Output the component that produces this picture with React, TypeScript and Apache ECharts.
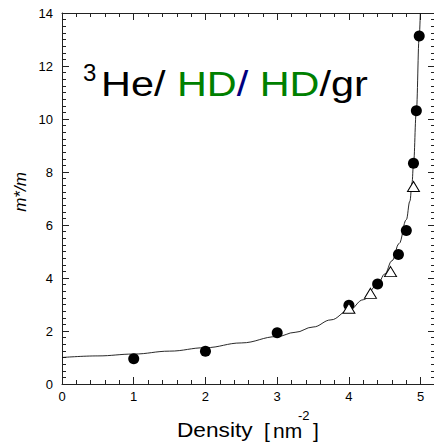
import React, { useEffect, useRef } from 'react';
import * as echarts from 'echarts';

// fitted curve
const curveX = [0, 0.5, 1, 1.5, 2, 2.5, 3, 3.25, 3.5, 3.75, 4, 4.2, 4.4, 4.5, 4.6, 4.7, 4.8, 4.85, 4.88, 4.9, 4.94, 4.98, 4.995];
const curveY = [1.0, 1.06, 1.13, 1.24, 1.37, 1.55, 1.79, 1.95, 2.15, 2.42, 2.78, 3.18, 3.75, 4.15, 4.65, 5.3, 6.2, 6.9, 7.6, 8.3, 10.3, 13.1, 14.0];

// filled circles
const circleX = [1, 2, 3, 4, 4.4, 4.69, 4.8, 4.9, 4.94, 4.98];
const circleY = [0.95, 1.24, 1.93, 2.97, 3.77, 4.89, 5.79, 8.33, 10.31, 13.13];

// open triangles
const triX = [4.0, 4.3, 4.58, 4.9];
const triY = [2.86, 3.42, 4.24, 7.45];

const FONT = '"Liberation Sans", Arial, Helvetica, sans-serif';
const AX = '#222';
// a hair above zero, so that no axis is moved onto another axis's zero line
const EPS = 1e-9;

const intLabel = (v: number) => (Math.abs(v - Math.round(v)) < 1e-6 ? String(Math.round(v)) : '');

function xAxisCfg(position: 'top' | 'bottom', labels: boolean) {
  return {
    type: 'value',
    position,
    min: EPS,
    max: 5.2,
    interval: 1,
    axisLine: { show: true, lineStyle: { color: AX, width: 1 } },
    axisTick: { show: true, inside: true, length: 7 },
    minorTick: { show: true, splitNumber: 5, length: 4 },
    splitLine: { show: false },
    axisLabel: {
      show: labels,
      showMaxLabel: false,
      margin: 6,
      fontSize: 13,
      color: '#000',
      fontFamily: FONT,
      formatter: intLabel,
    },
  };
}

function yAxisCfg(position: 'left' | 'right', labels: boolean) {
  return {
    type: 'value',
    position,
    min: EPS,
    max: 14,
    interval: 2,
    axisLine: { show: true, lineStyle: { color: AX, width: 1 } },
    axisTick: { show: true, inside: true, length: 7 },
    minorTick: { show: true, splitNumber: 8, length: 4 },
    splitLine: { show: false },
    axisLabel: { show: labels, margin: 9, fontSize: 13, color: '#000', fontFamily: FONT, formatter: intLabel },
  };
}

export default function App() {
  const ref = useRef<HTMLDivElement>(null);
  useEffect(() => {
    if (!ref.current) return;
    const chart = echarts.init(ref.current, undefined, { renderer: 'svg' });
    chart.setOption({
      animation: false,
      grid: { left: 62, right: -1, top: 13, bottom: 60, outerBoundsMode: 'none' },
      xAxis: [xAxisCfg('bottom', true), xAxisCfg('top', false)],
      yAxis: [yAxisCfg('left', true), yAxisCfg('right', false)],
      series: [
        {
          type: 'line',
          data: curveX.map((x, i) => [x, curveY[i]]),
          showSymbol: false,
          smooth: 0.4,
          smoothMonotone: 'x',
          lineStyle: { color: '#111', width: 0.9 },
          z: 2,
        },
        {
          type: 'scatter',
          data: circleX.map((x, i) => [x, circleY[i]]),
          symbol: 'circle',
          symbolSize: 11,
          itemStyle: { color: '#000', opacity: 1 },
          z: 3,
        },
        {
          type: 'scatter',
          data: triX.map((x, i) => [x, triY[i]]),
          symbol: 'triangle',
          symbolSize: [12, 10],
          itemStyle: { color: '#fff', borderColor: '#000', borderWidth: 1, opacity: 1 },
          z: 4,
        },
      ],
      graphic: [
        {
          type: 'text',
          x: 83,
          y: 60,
          style: { text: '3', fontSize: 24, fontFamily: FONT, fill: '#000', verticalAlign: 'top' },
        },
        {
          type: 'text',
          x: 101,
          y: 65,
          scaleX: 1.15,
          style: {
            text: '{k|He/ }{g|HD}{b|/ }{g|HD}{k|/gr}',
            fontSize: 36,
            fontFamily: FONT,
            verticalAlign: 'top',
            rich: {
              k: { fill: '#000', fontSize: 36, fontFamily: FONT },
              g: { fill: '#008000', fontSize: 36, fontFamily: FONT },
              b: { fill: '#000080', fontSize: 36, fontFamily: FONT },
            },
          },
        },
        {
          type: 'text',
          x: 20,
          y: 192,
          rotation: Math.PI / 2,
          style: {
            text: 'm*/m',
            fontSize: 17,
            fontStyle: 'italic',
            fontFamily: FONT,
            fill: '#000',
            align: 'center',
            verticalAlign: 'middle',
          },
        },
        {
          type: 'text',
          x: 177,
          y: 430,
          scaleX: 1.08,
          style: { text: 'Density', fontSize: 21, fontFamily: FONT, fill: '#000', verticalAlign: 'middle' },
        },
        {
          type: 'text',
          x: 264,
          y: 430,
          style: { text: '[', fontSize: 21, fontFamily: FONT, fill: '#000', verticalAlign: 'middle' },
        },
        {
          type: 'text',
          x: 273,
          y: 430,
          style: { text: 'nm', fontSize: 21, fontFamily: FONT, fill: '#000', verticalAlign: 'middle' },
        },
        {
          type: 'text',
          x: 298,
          y: 415,
          style: { text: '-2', fontSize: 13, fontFamily: FONT, fill: '#000', verticalAlign: 'middle' },
        },
        {
          type: 'text',
          x: 313,
          y: 430,
          style: { text: ']', fontSize: 21, fontFamily: FONT, fill: '#000', verticalAlign: 'middle' },
        },
      ],
    });
    return () => chart.dispose();
  }, []);
  return (
    <div
      ref={ref}
      style={{ position: 'fixed', left: 0, top: 0, width: 434, height: 444, background: '#fff' }}
    />
  );
}
